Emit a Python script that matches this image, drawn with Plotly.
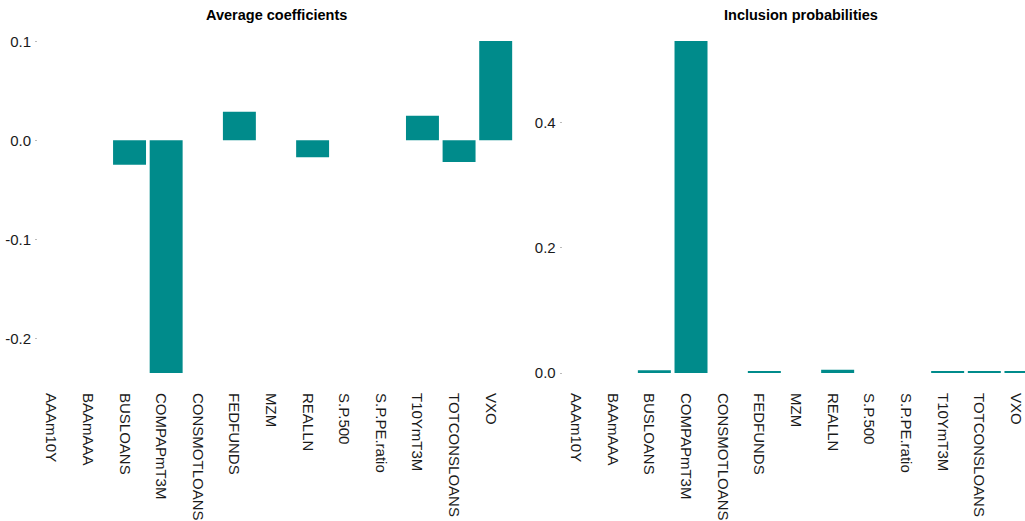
import plotly.graph_objects as go

categories = ["AAAm10Y", "BAAmAAA", "BUSLOANS", "COMPAPmT3M", "CONSMOTLOANS", "FEDFUNDS",
              "MZM", "REALLN", "S.P.500", "S.P.PE.ratio", "T10YmT3M", "TOTCONSLOANS", "VXO"]
avg_coef = [0.0, 0.0, -0.0247, -0.235, 0.0, 0.0289, 0.0, -0.017, 0.0, 0.0, 0.0249, -0.022, 0.1003]
incl_prob = [0.0, 0.0, 0.0045, 0.531, 0.0, 0.0025, 0.0, 0.0053, 0.0, 0.0, 0.0025, 0.0025, 0.0025]

color = "#008B8B"
font_family = "Liberation Sans, Arial, sans-serif"

idx = list(range(len(categories)))

fig = go.Figure()
fig.add_trace(go.Bar(x=idx, y=avg_coef, marker_color=color, marker_line_width=0,
                     width=0.9, xaxis="x", yaxis="y", showlegend=False,
                     hovertext=categories))
fig.add_trace(go.Bar(x=idx, y=incl_prob, marker_color=color, marker_line_width=0,
                     width=0.9, xaxis="x2", yaxis="y2", showlegend=False,
                     hovertext=categories))

W, H = 1025, 521
top_px, bot_px, left_px = 41, 373, 38
ml, mr, mt, mb = left_px, 0, top_px, H - bot_px
pw = W - ml - mr
ph = H - mt - mb

def px2x(p):
    return (p - ml) / pw

def px2y(p):
    return (H - mb - p) / ph

label_shift = 0.14  # labels sit slightly left of the bar centres
xcommon = dict(type="linear", tickangle=90, showgrid=False, zeroline=False, showline=False,
               ticks="", ticklabelstandoff=19, automargin=False,
               tickvals=[i - label_shift for i in idx], ticktext=categories,
               tickfont=dict(family=font_family, size=15, color="#1a1a1a"))
ycommon = dict(showgrid=False, zeroline=False, showline=False, ticks="outside", ticklen=2,
               tickcolor="#bbbbbb", ticklabelstandoff=1, automargin=False,
               tickfont=dict(family=font_family, size=15, color="#1a1a1a"))

fig.update_layout(
    width=W, height=H,
    margin=dict(l=ml, r=mr, t=mt, b=mb),
    plot_bgcolor="white", paper_bgcolor="white",
    bargap=0.1,
    xaxis=dict(domain=[0, px2x(514)], range=[-0.5, 12.5], **xcommon),
    xaxis2=dict(domain=[px2x(562.7), 1], range=[-0.5, 12.11], anchor="y2", **xcommon),
    yaxis=dict(range=[min(avg_coef), max(avg_coef)], tickvals=[0.1, 0.0, -0.1, -0.2],
               ticktext=["0.1", "0.0", "-0.1", "-0.2"], anchor="x", **ycommon),
    yaxis2=dict(range=[0, max(incl_prob)], tickvals=[0.0, 0.2, 0.4],
                ticktext=["0.0", "0.2", "0.4"], anchor="x2", **ycommon),
    annotations=[
        dict(text="<b>Average coefficients</b>", x=px2x(276), y=px2y(15), xref="paper", yref="paper",
             showarrow=False, xanchor="center", yanchor="middle",
             font=dict(family=font_family, size=14.5, color="black")),
        dict(text="<b>Inclusion probabilities</b>", x=px2x(801), y=px2y(15), xref="paper", yref="paper",
             showarrow=False, xanchor="center", yanchor="middle",
             font=dict(family=font_family, size=14.5, color="black")),
    ],
)

fig.write_html("out.html",
               config={"displayModeBar": False},
               post_script="document.body.style.margin='0';document.body.style.padding='0';")
